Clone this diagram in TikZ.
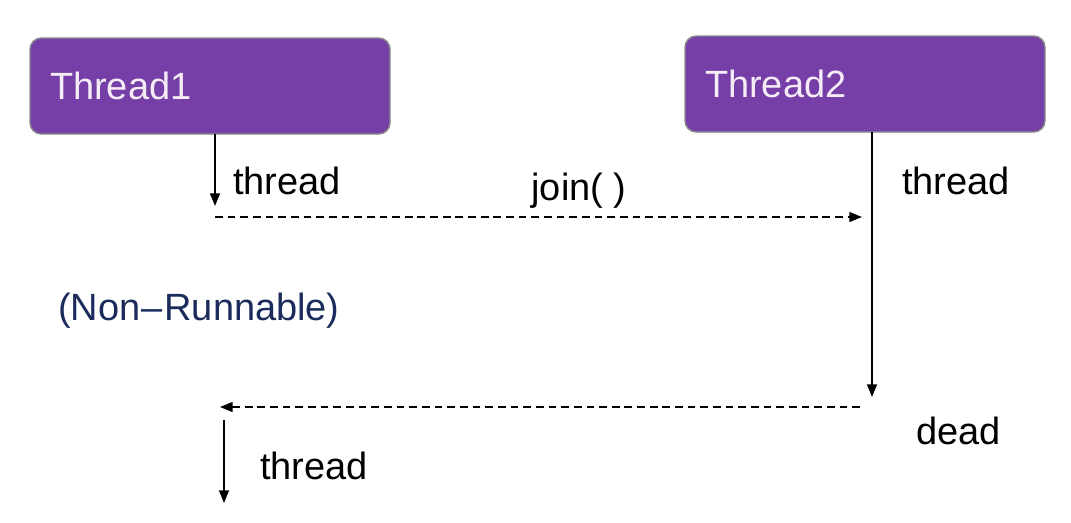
\documentclass[tikz,border=0pt]{standalone}
\usepackage{fontspec}
\setmainfont{Liberation Sans}
\usetikzlibrary{arrows.meta,positioning}
\definecolor{boxpurple}{HTML}{753FA7}
\definecolor{boxedge}{HTML}{8A8A8A}
\definecolor{boxtext}{HTML}{F6ECF6}
\definecolor{navy}{HTML}{1B2B5C}
\tikzset{
  threadbox/.style={draw=boxedge, line width=1pt, fill=boxpurple, rounded corners=8pt,
    minimum width=360*0.025cm, minimum height=96*0.025cm, inner xsep=20*0.025cm,
    text=boxtext, font=\fontsize{27}{30}\selectfont, text width=320*0.025cm, align=left},
  lbl/.style={font=\fontsize{27}{30}\selectfont, inner sep=0pt, anchor=west},
  flow/.style={line width=1.3pt, -{Triangle[length=9pt,width=7pt]}},
  callflow/.style={flow, dash pattern=on 5.5pt off 3.5pt}
}
\begin{document}
\begin{tikzpicture}[x=0.025cm, y=-0.025cm]
  \useasboundingbox (0,0) rectangle (1071,522);
  % the two threads
  \node[threadbox] (t1) at (210,86) {\raisebox{-3pt}{Thread1}};
  \node[threadbox] (t2) at (865,84) {\raisebox{-3pt}{Thread2}};
  % points on the lines
  \coordinate (a1) at (215,134);
  \coordinate (a2) at (215,206);
  \coordinate (j1) at (215,217);
  \coordinate (j2) at (862,217);
  \coordinate (b1) at (872,132);
  \coordinate (b2) at (872,397);
  \coordinate (d1) at (860,407);
  \coordinate (d2) at (220,407);
  \coordinate (c1) at (224,420);
  \coordinate (c2) at (224,503);
  % thread1 runs, then calls join()
  \draw[flow] (a1) -- (a2);
  \draw[callflow] (j1) -- (j2);
  \node[lbl] (l1) at (233,181) {thread};
  \node[lbl, anchor=center] (lj) at (579,191) {join(\ )};
  % thread2 runs until dead
  \draw[flow] (b1) -- (b2);
  \node[lbl] (l2) at (902,181) {thread};
  \draw[callflow] (d1) -- (d2);
  \node[lbl] (ld) at (916,431) {dead};
  % thread1 goes on
  \draw[flow] (c1) -- (c2);
  \node[lbl] (l3) at (260,466) {thread};
  \node[lbl, text=navy] (nr) at (58,311) {(Non{\kern1pt}–{\kern1pt}Runnable)};
\end{tikzpicture}
\end{document}
